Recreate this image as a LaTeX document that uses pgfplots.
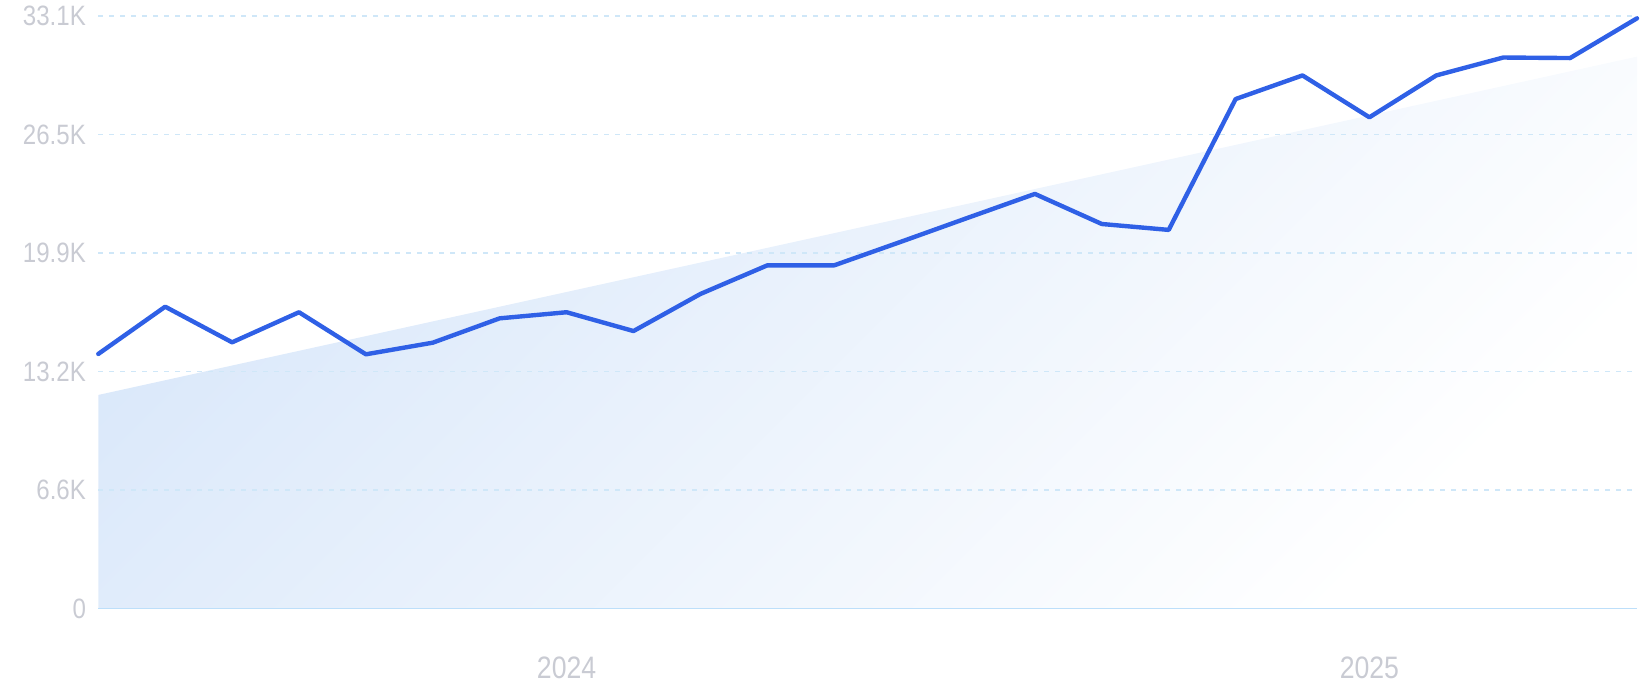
\documentclass[border=0pt]{standalone}
\usepackage{fontspec}
\setmainfont[FakeStretch=0.86]{Liberation Sans}
\usepackage{pgfplots}
\pgfplotsset{compat=1.18}

\definecolor{linec}{HTML}{2F60E6}
\definecolor{gridc}{HTML}{CFE7F8}
\definecolor{basec}{HTML}{BDDFFA}
\definecolor{areaA}{HTML}{DAE8FA}
\definecolor{areaB}{HTML}{FFFFFF}
\definecolor{labelc}{HTML}{C9CBD3}

% monthly values, Jun 2023 .. May 2025 (thousands)
\pgfplotstableread{
x   y
0   14.22
1   16.86
2   14.87
3   16.55
4   14.20
5   14.85
6   16.21
7   16.55
8   15.50
9   17.57
10  19.17
11  19.17
12  20.49
13  21.83
14  23.16
15  21.48
16  21.15
17  28.46
18  29.78
19  27.44
20  29.78
21  30.78
22  30.75
23  32.97
}\volume

\begin{document}
\begin{tikzpicture}
\begin{axis}[
  at={(0,0)}, anchor=south west,
  scale only axis, width=769.35bp, height=296.25bp,
  xmin=0, xmax=23, ymin=0, ymax=33.1,
  set layers, clip=false,
  axis line style={draw=none},
  major tick length=0pt,
  xtick={7,19}, xticklabels={2024,2025},
  ytick={0,6.62,13.24,19.86,26.48,33.1},
  yticklabels={0,6.6K,13.2K,19.9K,26.5K,33.1K},
  ymajorgrids,
  major grid style={draw=gridc, line width=0.75bp, dash pattern=on 2.5bp off 3bp},
  xticklabel style={anchor=north, inner sep=0pt, yshift=-24bp,
    font=\fontsize{15.5bp}{16bp}\selectfont, text=labelc},
  yticklabel style={anchor=east, inner sep=0pt, xshift=-6bp,
    font=\fontsize{14bp}{15bp}\selectfont, text=labelc},
]
  % trend area
  \addplot[draw=none, top color=areaA, bottom color=areaB, shading angle=45,
    on layer=axis background]
    coordinates {(0,11.93) (23,30.83)} \closedcycle;
  % baseline
  \addplot[basec, line width=0.8bp] coordinates {(0,0) (23,0)};
  % series
  \addplot[linec, line width=2.2bp, line join=round, line cap=round] table[x=x, y=y] {\volume};
\end{axis}
\path (-49.15bp,-45.75bp) rectangle (772.35bp,304.25bp);
\end{tikzpicture}
\end{document}
